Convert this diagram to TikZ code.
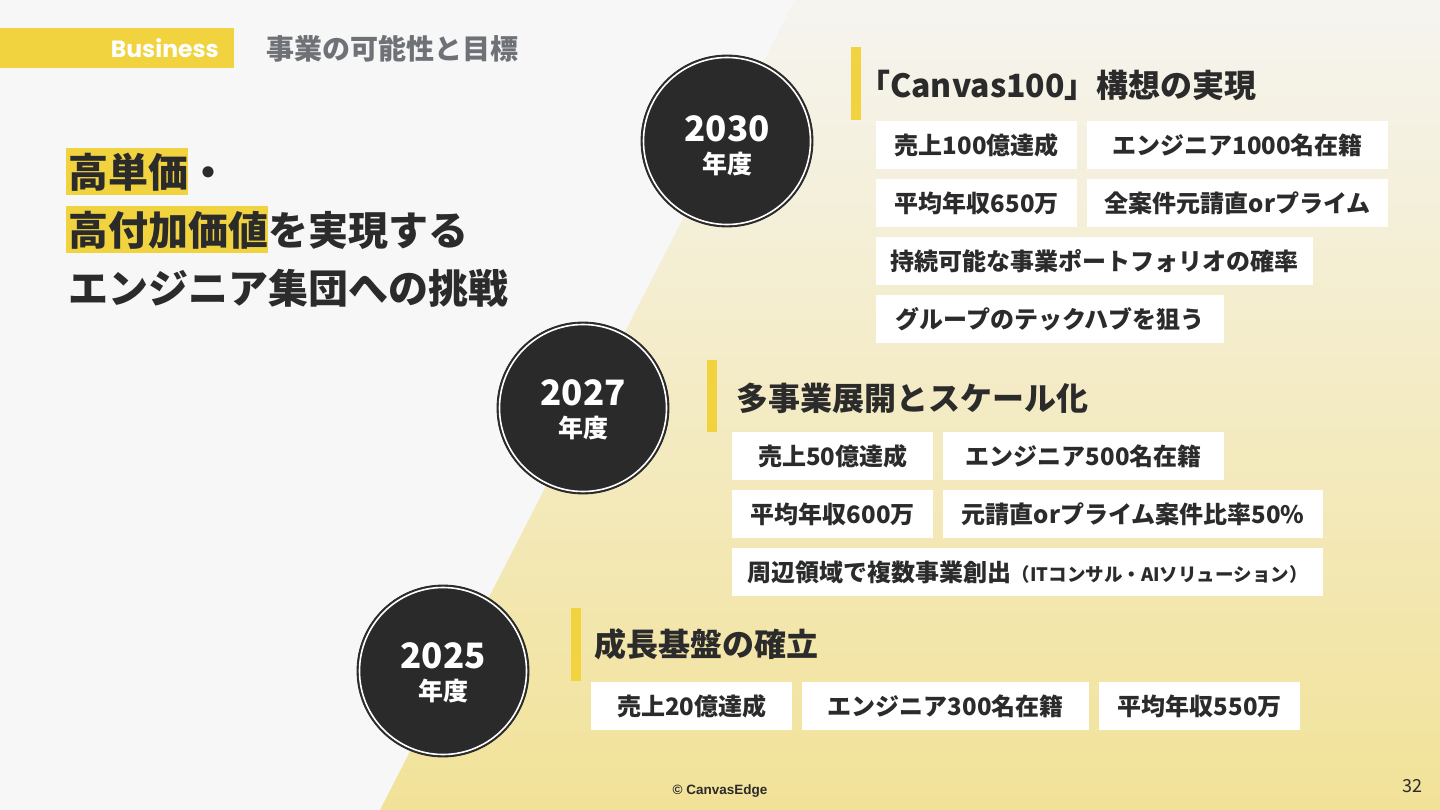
\documentclass[tikz,border=0pt]{standalone}
\usepackage{fontspec}
\setmainfont{Noto Sans CJK JP}
\newfontfamily\popfont{Poppins}
\newfontfamily\arialfont{Liberation Sans}
\definecolor{bgl}{RGB}{247,247,247}
\definecolor{bgtop}{RGB}{245,244,240}
\definecolor{bgbot}{RGB}{242,226,152}
\definecolor{ylw}{RGB}{240,211,62}
\definecolor{ink}{RGB}{43,43,43}
\definecolor{hgray}{RGB}{110,114,119}
\definecolor{circ}{RGB}{42,42,42}
\tikzset{
  yearc/.style={circle, fill=circ, draw=circ, line width=0.8pt, minimum size=172pt, inner sep=0pt},
  ring/.style={draw=white, line width=1.6pt},
  yeartxt/.style={text=white, font=\fontsize{35}{38}\selectfont\bfseries, inner sep=0pt},
  nendo/.style={text=white, font=\fontsize{25}{28}\selectfont\bfseries, inner sep=0pt},
  goalbox/.style={fill=white, inner sep=0pt, minimum height=48pt, anchor=north west, text=ink, font=\fontsize{24}{26}\selectfont\bfseries},
  sectitle/.style={anchor=west, inner sep=0pt, text=ink, font=\fontsize{32}{34}\selectfont\bfseries},
  headline/.style={anchor=west, inner sep=0pt, text=ink, font=\fontsize{40}{44}\selectfont\bfseries},
  hl/.style={fill=ylw}
}
\begin{document}
\begin{tikzpicture}[x=1pt,y=-1pt]
\useasboundingbox (0,0) rectangle (1440,810);
% background
\fill[bgl] (0,0) rectangle (1440,810);
\shade[top color=bgtop, bottom color=bgbot] (795,0) -- (1440,0) -- (1440,810) -- (380,810) -- cycle;

% header
\fill[ylw] (0,28) rectangle (234,68);
\node[anchor=east, inner sep=0pt, text=white, font=\popfont\fontsize{23.5}{26}\selectfont\bfseries] (biz) at (219,48) {Business};
\node[anchor=west, inner sep=0pt, text=hgray, font=\fontsize{28}{30}\selectfont\bfseries] (htitle) at (266,49) {事業の可能性と目標};

% main heading
\fill[hl] (66,148) rectangle (188,195);
\fill[hl] (66,206) rectangle (268,253);
\node[headline] (l1) at (68,172) {高単価・};
\node[headline] (l2) at (68,230) {高付加価値を実現する};
\node[headline] (l3) at (68,288) {エンジニア集団への挑戦};

% circles
\node[yearc] (c2030) at (727,141) {};
\draw[ring] (c2030.center) circle (83.5);
\node[yeartxt] (y2030) at (727,129) {2030};
\node[nendo] (n2030) at (727,164) {年度};

\node[yearc] (c2027) at (583,408) {};
\draw[ring] (c2027.center) circle (83.5);
\node[yeartxt] (y2027) at (583,393) {2027};
\node[nendo] (n2027) at (583,428) {年度};

\node[yearc] (c2025) at (443,671) {};
\draw[ring] (c2025.center) circle (83.5);
\node[yeartxt] (y2025) at (443,656) {2025};
\node[nendo] (n2025) at (443,691) {年度};

% 2030 section
\fill[ylw] (851,47) rectangle (861,120);
\node[sectitle] (t2030) at (858,85) {「Canvas100」構想の実現};
\node[goalbox, minimum width=201pt] (a1) at (876,121) {売上100億達成};
\node[goalbox, minimum width=301pt] (a2) at (1087,121) {エンジニア1000名在籍};
\node[goalbox, minimum width=201pt] (a3) at (876,179) {平均年収650万};
\node[goalbox, minimum width=301pt] (a4) at (1087,179) {全案件元請直orプライム};
\node[goalbox, minimum width=437pt] (a5) at (876,237) {持続可能な事業ポートフォリオの確率};
\node[goalbox, minimum width=348pt] (a6) at (876,295) {グループのテックハブを狙う};

% 2027 section
\fill[ylw] (707,360) rectangle (717,432);
\node[sectitle] (t2027) at (736,398) {多事業展開とスケール化};
\node[goalbox, minimum width=201pt] (b1) at (732,432) {売上50億達成};
\node[goalbox, minimum width=281pt] (b2) at (943,432) {エンジニア500名在籍};
\node[goalbox, minimum width=201pt] (b3) at (732,490) {平均年収600万};
\node[goalbox, minimum width=380pt] (b4) at (943,490) {元請直orプライム案件比率50\%};
\node[goalbox, minimum width=591pt] (b5) at (732,548) {周辺領域で複数事業創出{\fontsize{18.5}{20}\selectfont（ITコンサル・AIソリューション）}};

% 2025 section
\fill[ylw] (571,608) rectangle (581,681);
\node[sectitle] (t2025) at (594,644) {成長基盤の確立};
\node[goalbox, minimum width=201pt] (d1) at (591,682) {売上20億達成};
\node[goalbox, minimum width=287pt] (d2) at (802,682) {エンジニア300名在籍};
\node[goalbox, minimum width=201pt] (d3) at (1099,682) {平均年収550万};

% footer
\node[inner sep=0pt, text=ink, font=\arialfont\fontsize{13.5}{15}\selectfont\bfseries] (copy) at (720,791) {© CanvasEdge};
\node[inner sep=0pt, text=ink, font=\fontsize{18}{20}\selectfont\mdseries] (page) at (1412,786) {32};
\end{tikzpicture}
\end{document}
